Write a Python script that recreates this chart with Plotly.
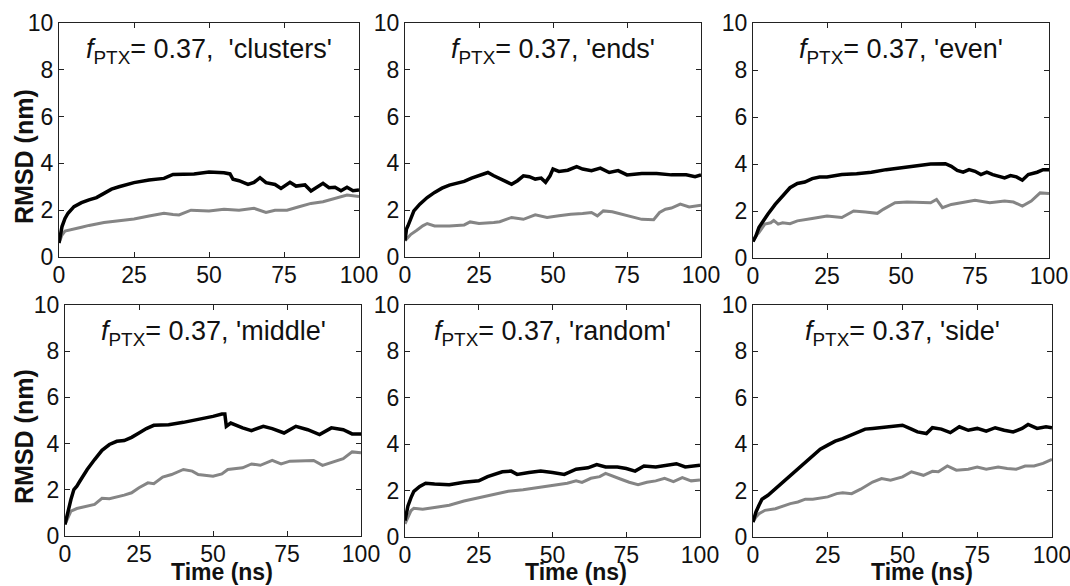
import plotly.graph_objects as go

# ---------------- data ----------------
panel_names = ["clusters", "ends", "even", "middle", "random", "side"]
panel_labels = ["0.37,  'clusters'", "0.37, 'ends'", "0.37, 'even'",
                "0.37, 'middle'", "0.37, 'random'", "0.37, 'side'"]

# clusters
clusters_t_black = [0, 1, 2, 3, 5, 7.5, 10, 12.5, 15, 17.5, 20, 25, 30, 35, 38, 40, 45, 50, 55, 57, 58, 60, 63, 65, 67, 69, 70, 72, 74, 77, 79, 82, 84, 86, 88, 90, 92, 94, 96, 98, 100]
clusters_black = [0.6, 1.3, 1.65, 1.87, 2.15, 2.32, 2.44, 2.54, 2.72, 2.9, 3.0, 3.18, 3.29, 3.36, 3.53, 3.53, 3.55, 3.63, 3.6, 3.55, 3.32, 3.26, 3.1, 3.19, 3.39, 3.18, 3.15, 3.1, 2.93, 3.19, 3.03, 3.08, 2.82, 3.0, 3.15, 2.96, 2.98, 2.83, 2.98, 2.83, 2.86]
clusters_t_gray = [0, 1, 2, 4, 7.5, 10, 15, 20, 25, 30, 35, 38, 40, 44, 50, 55, 60, 65, 69, 72, 76, 80, 84, 88, 92, 96, 100]
clusters_gray = [0.6, 0.94, 1.11, 1.18, 1.27, 1.35, 1.47, 1.55, 1.62, 1.75, 1.87, 1.82, 1.8, 2.0, 1.97, 2.04, 2.0, 2.08, 1.9, 2.0, 2.0, 2.15, 2.29, 2.36, 2.5, 2.65, 2.58]

# ends
ends_t_black = [0, 0.5, 1, 2, 3, 5, 7.5, 10, 12.5, 15, 17.5, 20, 22.5, 25, 28, 30, 32, 34, 36, 38, 40, 42, 44, 46, 47.5, 49, 50, 52, 55, 58, 60, 63, 66, 69, 72, 75, 80, 85, 90, 95, 98, 100]
ends_black = [0.7, 1.2, 1.33, 1.69, 1.97, 2.26, 2.54, 2.76, 2.94, 3.07, 3.14, 3.23, 3.37, 3.47, 3.61, 3.47, 3.33, 3.23, 3.11, 3.26, 3.47, 3.43, 3.33, 3.37, 3.19, 3.47, 3.76, 3.66, 3.71, 3.86, 3.76, 3.69, 3.8, 3.61, 3.69, 3.51, 3.57, 3.57, 3.51, 3.51, 3.43, 3.51]
ends_t_gray = [0, 2, 4, 6, 7.5, 10, 15, 20, 22, 25, 30, 32, 36, 40, 44, 48, 52, 56, 60, 63, 65, 67, 70, 75, 80, 84, 86, 88, 90, 93, 96, 100]
ends_gray = [0.7, 0.97, 1.14, 1.33, 1.43, 1.33, 1.33, 1.37, 1.5, 1.43, 1.47, 1.51, 1.69, 1.61, 1.8, 1.69, 1.76, 1.83, 1.86, 1.9, 1.76, 1.97, 1.93, 1.76, 1.61, 1.59, 1.9, 2.04, 2.09, 2.26, 2.14, 2.21]

# even
even_t_black = [0, 1, 2, 3, 5, 7.5, 10, 12.5, 15, 17.5, 20, 22.5, 25, 30, 35, 40, 45, 50, 55, 60, 65, 67, 69, 71, 73, 75, 77, 79, 81, 83, 85, 87, 89, 91, 93, 96, 98, 100]
even_black = [0.7, 0.94, 1.3, 1.5, 1.86, 2.28, 2.66, 2.99, 3.17, 3.23, 3.38, 3.45, 3.45, 3.55, 3.59, 3.65, 3.76, 3.83, 3.9, 4.0, 4.01, 3.9, 3.73, 3.65, 3.76, 3.69, 3.55, 3.65, 3.55, 3.48, 3.41, 3.51, 3.45, 3.31, 3.55, 3.65, 3.76, 3.76]
even_t_gray = [0, 1, 2, 4, 6, 7, 8.5, 10, 12.5, 15, 20, 25, 30, 34, 38, 42, 44, 48, 52, 56, 60, 62, 64, 67, 70, 75, 80, 85, 88, 91, 94, 97, 100]
even_gray = [0.7, 0.94, 1.08, 1.44, 1.5, 1.6, 1.44, 1.5, 1.46, 1.58, 1.68, 1.79, 1.72, 2.0, 1.96, 1.9, 2.07, 2.35, 2.38, 2.38, 2.35, 2.49, 2.14, 2.28, 2.35, 2.46, 2.35, 2.42, 2.38, 2.21, 2.42, 2.77, 2.75]

# middle
middle_t_black = [0, 1, 2, 3, 4, 5, 7.5, 10, 12.5, 15, 17.5, 20, 22.5, 25, 27.5, 30, 35, 40, 45, 50, 53, 54, 54.5, 56, 60, 63, 67, 70, 74, 78, 82, 86, 90, 94, 97, 100]
middle_black = [0.5, 1.08, 1.58, 2.01, 2.16, 2.37, 2.88, 3.31, 3.71, 3.96, 4.1, 4.13, 4.27, 4.46, 4.65, 4.79, 4.82, 4.92, 5.04, 5.18, 5.28, 5.28, 4.75, 4.89, 4.68, 4.56, 4.75, 4.65, 4.46, 4.75, 4.6, 4.39, 4.68, 4.6, 4.42, 4.42]
middle_t_gray = [0, 1, 2, 4, 7.5, 10, 12.5, 15, 20, 22.5, 25, 28, 30, 33, 36, 40, 43, 45, 50, 53, 55, 60, 63, 66, 70, 73, 76, 80, 84, 87, 90, 94, 97, 100]
middle_gray = [0.5, 0.79, 1.08, 1.19, 1.29, 1.37, 1.63, 1.61, 1.77, 1.87, 2.09, 2.3, 2.26, 2.55, 2.66, 2.88, 2.81, 2.66, 2.59, 2.69, 2.88, 2.95, 3.12, 3.06, 3.27, 3.12, 3.24, 3.27, 3.27, 3.06, 3.17, 3.35, 3.64, 3.6]

# random
random_t_black = [0, 1, 2, 3, 5, 7, 10, 15, 20, 25, 28, 30, 33, 36, 38, 42, 46, 50, 54, 58, 62, 65, 68, 72, 75, 78, 81, 85, 88, 92, 95, 98, 100]
random_black = [0.71, 1.34, 1.69, 1.97, 2.18, 2.32, 2.28, 2.25, 2.36, 2.42, 2.6, 2.67, 2.81, 2.84, 2.7, 2.78, 2.84, 2.78, 2.7, 2.92, 2.98, 3.12, 3.02, 3.02, 2.95, 2.84, 3.06, 3.02, 3.09, 3.16, 3.02, 3.06, 3.09]
random_t_gray = [0, 1, 2, 3, 6, 10, 15, 20, 25, 30, 35, 40, 45, 50, 55, 58, 60, 63, 66, 68, 70, 73, 76, 79, 82, 85, 88, 91, 94, 97, 100]
random_gray = [0.57, 0.85, 1.13, 1.24, 1.2, 1.27, 1.37, 1.55, 1.69, 1.83, 1.97, 2.04, 2.14, 2.21, 2.32, 2.42, 2.35, 2.53, 2.6, 2.74, 2.63, 2.5, 2.36, 2.25, 2.36, 2.42, 2.53, 2.39, 2.56, 2.42, 2.46]

# side
side_t_black = [0, 1, 2, 3, 5, 7.5, 10, 12.5, 15, 17.5, 20, 22.5, 25, 27.5, 30, 32.5, 35, 37.5, 40, 45, 50, 53, 55, 58, 60, 63, 66, 69, 72, 75, 78, 81, 84, 87, 90, 92, 95, 98, 100]
side_black = [0.65, 1.08, 1.37, 1.63, 1.8, 2.09, 2.37, 2.66, 2.95, 3.24, 3.53, 3.78, 3.96, 4.13, 4.24, 4.39, 4.53, 4.65, 4.68, 4.75, 4.82, 4.65, 4.53, 4.46, 4.71, 4.65, 4.5, 4.75, 4.6, 4.68, 4.56, 4.71, 4.6, 4.53, 4.68, 4.85, 4.68, 4.75, 4.71]
side_t_gray = [0, 1, 2, 4, 7.5, 10, 12.5, 15, 17.5, 20, 25, 28, 30, 33, 36, 40, 43, 46, 50, 53, 57, 60, 62, 65, 68, 72, 75, 78, 82, 85, 88, 91, 94, 97, 100]
side_gray = [0.65, 0.86, 1.0, 1.15, 1.22, 1.34, 1.44, 1.51, 1.63, 1.63, 1.73, 1.87, 1.91, 1.87, 2.06, 2.37, 2.52, 2.45, 2.59, 2.81, 2.66, 2.83, 2.81, 3.06, 2.88, 2.92, 3.02, 2.92, 3.02, 2.95, 2.92, 3.06, 3.06, 3.17, 3.35]

black_series = [(clusters_t_black, clusters_black), (ends_t_black, ends_black), (even_t_black, even_black),
                (middle_t_black, middle_black), (random_t_black, random_black), (side_t_black, side_black)]
gray_series = [(clusters_t_gray, clusters_gray), (ends_t_gray, ends_gray), (even_t_gray, even_gray),
               (middle_t_gray, middle_gray), (random_t_gray, random_gray), (side_t_gray, side_gray)]

x_ticks = [0, 25, 50, 75, 100]
y_ticks = [0, 2, 4, 6, 8, 10]

# ---------------- layout ----------------
W, H = 1070, 586
# pixel boxes of each axes: (left, right, top, bottom)
boxes = [(59, 359, 23, 257), (405, 701, 23, 257), (753, 1049, 23, 258),
         (65, 361, 305, 536), (405, 700, 305, 537), (753, 1052, 305, 537)]

FONT = "Arial, 'Liberation Sans', Helvetica, sans-serif"
fig = go.Figure()

for i in range(6):
    xa = "x" if i == 0 else f"x{i+1}"
    ya = "y" if i == 0 else f"y{i+1}"
    tb, vb = gray_series[i]
    fig.add_trace(go.Scatter(x=tb, y=vb, mode="lines", xaxis=xa, yaxis=ya,
                             line=dict(color="#858585", width=3), showlegend=False))
    tb, vb = black_series[i]
    fig.add_trace(go.Scatter(x=tb, y=vb, mode="lines", xaxis=xa, yaxis=ya,
                             line=dict(color="#000000", width=3.5), showlegend=False))

    l, r, t, b = boxes[i]
    axkey_x = "xaxis" if i == 0 else f"xaxis{i+1}"
    axkey_y = "yaxis" if i == 0 else f"yaxis{i+1}"
    common = dict(showline=True, linecolor="#222", linewidth=1, mirror="ticks",
                  ticks="inside", ticklen=5, tickcolor="#222", showgrid=False,
                  zeroline=False, ticklabeloverflow="allow",
                  tickfont=dict(family=FONT, size=23, color="#111"))
    fig.layout[axkey_x] = dict(domain=[l / W, r / W], range=[0, 100], tickvals=x_ticks,
                               anchor=ya, ticklabelstandoff=-3, **common)
    fig.layout[axkey_y] = dict(domain=[1 - b / H, 1 - t / H], range=[0, 10], tickvals=y_ticks,
                               anchor=xa, **common)

    fig.add_annotation(xref=f"{xa} domain", yref=ya, x=0.5, y=8.8,
                       text=f"<i>f</i><sub>PTX</sub>= {panel_labels[i]}",
                       showarrow=False, xanchor="center", yanchor="middle",
                       font=dict(family=FONT, size=27, color="#111"))

# y-axis titles
for yc in [157, 437]:
    fig.add_annotation(xref="paper", yref="paper", x=24 / W, y=1 - yc / H,
                       text="<b>RMSD (nm)</b>", textangle=-90, showarrow=False,
                       xanchor="center", yanchor="middle",
                       font=dict(family=FONT, size=25, color="#111"))
# x-axis titles
for xc in [222, 576, 922]:
    fig.add_annotation(xref="paper", yref="paper", x=xc / W, y=1 - 572 / H,
                       text="<b>Time (ns)</b>", showarrow=False,
                       xanchor="center", yanchor="middle",
                       font=dict(family=FONT, size=23, color="#111"))

fig.update_layout(width=W, height=H,
                  margin=dict(l=0, r=0, t=0, b=0, autoexpand=False),
                  paper_bgcolor="white", plot_bgcolor="white", showlegend=False)

fig.write_html("out.html", config={"displayModeBar": False},
               post_script="document.body.style.margin='0px';document.body.style.overflow='hidden';")
